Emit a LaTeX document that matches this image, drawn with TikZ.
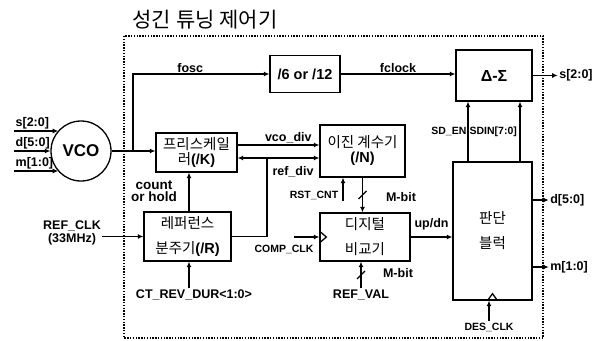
\documentclass[tikz,border=0pt]{standalone}
\usepackage{fontspec}
\setmainfont{Liberation Sans}
\newfontfamily\krfont{Noto Sans CJK KR}
\usetikzlibrary{arrows.meta, calc}
\newcommand{\lat}[1]{{\rmfamily\bfseries #1}}

\begin{document}
\begin{tikzpicture}[x=1pt, y=-1pt, >={Latex[length=5.5pt,width=5pt]}, line width=1.3pt,
    blk/.style={draw, line width=1.3pt, inner sep=0pt, align=center, font=\krfont\fontsize{14.5}{17}\selectfont},
    lbl/.style={inner sep=1pt, font=\bfseries\fontsize{12.5}{13}\selectfont},
    smlbl/.style={inner sep=1pt, font=\bfseries\fontsize{10.5}{11}\selectfont},
    ctrlframe/.style={line width=1.4pt, dash pattern=on 1.4pt off 1.4pt}]
    \useasboundingbox (0,0) rectangle (601,340);

    % title and controller frame
    \node[font=\krfont\fontsize{21}{22}\selectfont] (title) at (205,20) {성긴 튜닝 제어기};
    \draw[ctrlframe] (124,36) rectangle (543,338);

    % blocks
    \node[draw, circle, line width=1.3pt, minimum size=60pt, inner sep=0pt, font=\bfseries\fontsize{17}{18}\selectfont] (vco) at (81,151) {VCO};
    \node[blk, minimum width=70pt, minimum height=37pt, font=\bfseries\fontsize{14.5}{15}\selectfont] (divsel) at (305,74) {/6 or /12};
    \node[blk, minimum width=76pt, minimum height=51pt, font=\bfseries\fontsize{16}{17}\selectfont] (dsig) at (494,75.5) {Δ-Σ};
    \node[blk, minimum width=81pt, minimum height=39pt] (presc) at (196.5,152.5) {프리스케일\\[-2pt]러\lat{(/K)}};
    \node[blk, minimum width=87pt, minimum height=49pt] (rdiv) at (187.5,236.5) {레퍼런스\\[8pt]분주기\lat{(/R)}};
    \node[blk, minimum width=85pt, minimum height=52pt] (cnt) at (362.5,151) {이진 계수기\\[-2pt]\lat{(/N)}};
    \node[blk, minimum width=90pt, minimum height=48pt] (comp) at (365,237) {디지털\\[8pt]비교기};
    \node[blk, minimum width=79pt, minimum height=138pt] (pan) at (492.5,231) {판단\\[8pt]블럭};

    % VCO inputs
    \coordinate (sin) at (14,131);
    \coordinate (din) at (14,151);
    \coordinate (min) at (14,171);
    \draw[->] (sin) -- (sin -| vco.138) node[lbl, pos=0, above right] {s[2:0]};
    \draw[->] (din) -- (vco.west) node[lbl, pos=0, above right] {d[5:0]};
    \draw[->] (min) -- (min -| vco.222) node[lbl, pos=0, above right] {m[1:0]};

    % VCO output and fosc branch
    \coordinate (fj) at (133,151);
    \draw[->] (vco.east) -- (vco.east -| presc.west);
    \draw[->] (fj) |- (divsel.west) node[lbl, pos=0.71, above] {fosc};
    \draw[->] (divsel.east) -- (divsel.east -| dsig.west) node[lbl, midway, above] {fclock};
    \draw[->] (dsig.east) -- ++(25,0) node[lbl, right] {s[2:0]};

    % decision block
    \draw[->] ([xshift=-24.5pt]pan.north) -- ([xshift=-24.5pt]pan.north |- dsig.south)
        node[smlbl, midway, left] {SD\_EN} node[smlbl, midway, right] {SDIN[7:0]};
    \draw[->] ([xshift=27.5pt]pan.north) -- ([xshift=27.5pt]pan.north |- dsig.south);
    \draw[->] ([yshift=31pt]pan.east) -- ++(16,0) node[lbl, right] {d[5:0]};
    \draw[->] ([yshift=-36pt]pan.east) -- ++(16,0) node[lbl, right] {m[1:0]};
    \node[smlbl] (desclk) at (489,327) {DES\_CLK};
    \draw[->] (desclk.north) -- (desclk.north |- pan.south);
    \draw ([xshift=-5pt]pan.south) -- ([yshift=7pt]pan.south) -- ([xshift=5pt]pan.south);

    % prescaler and counter
    \draw[->] ([yshift=7.5pt]presc.east) -- ([yshift=7.5pt]presc.east -| cnt.west) node[lbl, pos=0.62, above] {vco\_div};
    \coordinate (rj) at (267,158);
    \draw[->] (rdiv.east) -| (rj) -- (rj -| presc.east);
    \draw[->] (rj) -- (rj -| cnt.west);
    \node[lbl] (refdiv) at (293,172) {ref\_div};
    \draw[->] ([xshift=1.5pt]rdiv.north) -- ([xshift=1.5pt]rdiv.north |- presc.south);
    \node[lbl, align=center, font=\bfseries\fontsize{13.5}{12}\selectfont] (cnthold) at (154,191) {count\\or hold};

    % reference divider
    \node[lbl] (ctrev) at (194,295) {CT\_REV\_DUR<1:0>};
    \draw[->] ([xshift=1.5pt]rdiv.south |- ctrev.north) -- ([xshift=1.5pt]rdiv.south);
    \node[lbl, align=center] (refclk) at (72,233) {REF\_CLK\\(33MHz)};
    \draw[->] (refclk.east |- rdiv.west) -- (rdiv.west);

    % digital comparator
    \node[smlbl] (rstcnt) at (314,195) {RST\_CNT};
    \draw[->] ([xshift=-19.5pt]cnt.south |- rstcnt.south) -- ([xshift=-19.5pt]cnt.south);
    \draw[->] (cnt.south) -- (cnt.south |- comp.north);
    \draw ($(cnt.south)!0.5!(cnt.south |- comp.north)+(-4,4)$) -- ++(8,-8);
    \node[lbl] (mbita) at (401,197) {M-bit};
    \node[smlbl] (compclk) at (284,249) {COMP\_CLK};
    \draw[->] ([xshift=-25pt]comp.west) -- (comp.west);
    \draw ([yshift=6pt]comp.west) -- ([xshift=7pt]comp.west) -- ([yshift=-6pt]comp.west);
    \draw[->] (comp.east) -- (comp.east -| pan.west) node[lbl, midway, above=5pt] {up/dn};
    \node[lbl] (refval) at (361,295) {REF\_VAL};
    \draw[->] ([xshift=-4pt]comp.south |- refval.north) -- ([xshift=-4pt]comp.south);
    \draw ($([xshift=-4pt]comp.south)!0.5!([xshift=-4pt]comp.south |- refval.north)+(-4,4)$) -- ++(8,-8);
    \node[lbl] (mbitb) at (398,273) {M-bit};
\end{tikzpicture}
\end{document}
